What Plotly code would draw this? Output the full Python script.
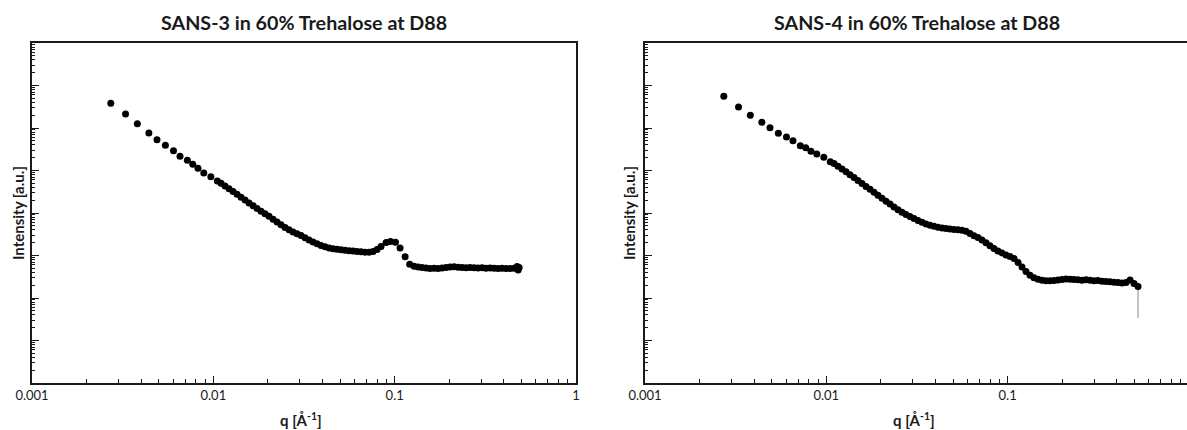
import plotly.graph_objects as go

# ---------------- data ----------------
q_left = [0.00272, 0.00328, 0.00381, 0.00441, 0.00489, 0.00544, 0.00603, 0.00655, 0.00719, 0.00770,
          0.00823, 0.00886, 0.00969, 0.01052,
          0.01103, 0.01160, 0.01221, 0.01285, 0.01351, 0.01422, 0.01496, 0.01574, 0.01656, 0.01742,
          0.01833, 0.01928, 0.02029, 0.02135, 0.02246, 0.02363, 0.02486, 0.02616, 0.02752, 0.02895,
          0.03046, 0.03205, 0.03372, 0.03548, 0.03733, 0.03927, 0.04131, 0.04347, 0.04573, 0.04811,
          0.05062, 0.05326, 0.05603, 0.05895, 0.06202, 0.06525, 0.06865, 0.07222, 0.07599, 0.07994,
          0.08411, 0.0897, 0.0948, 0.1010, 0.1071, 0.1142, 0.1210, 0.1280, 0.1346, 0.1416, 0.1491,
          0.1568, 0.1650, 0.1736, 0.1826, 0.1921, 0.2021, 0.2127, 0.2238, 0.2354, 0.2477, 0.2606,
          0.2742, 0.2885, 0.3035, 0.3193, 0.3359, 0.3535, 0.3719, 0.3913, 0.4117, 0.4331, 0.4557,
          0.4734, 0.4795, 0.4856]
i_left = [3813, 2135, 1262, 763, 530, 392, 292, 216, 174, 140,
          113, 87.4, 71.5, 56.6,
          50.0, 43.2, 37.1, 32.1, 27.5, 23.4, 20.2, 17.2, 14.8, 12.8,
          11.0, 9.58, 8.36, 7.15, 6.14, 5.28, 4.56, 4.02, 3.57, 3.24,
          2.95, 2.61, 2.32, 2.08, 1.88, 1.72, 1.60, 1.50, 1.44, 1.40,
          1.36, 1.33, 1.30, 1.28, 1.25, 1.22, 1.20, 1.19, 1.24, 1.38,
          1.63, 2.02, 2.14, 2.05, 1.50, 0.937, 0.621, 0.557, 0.536, 0.522, 0.508,
          0.495, 0.500, 0.492, 0.508, 0.522, 0.536, 0.542, 0.528, 0.519, 0.514, 0.522,
          0.514, 0.508, 0.516, 0.503, 0.508, 0.500, 0.495, 0.503, 0.495, 0.492, 0.500,
          0.551, 0.456, 0.522]

q_right = [0.00272, 0.00328, 0.00381, 0.00441, 0.00489, 0.00544, 0.00603, 0.00655, 0.00719, 0.00770,
           0.00823, 0.00886, 0.00969, 0.01052,
           0.01103, 0.01160, 0.01221, 0.01285, 0.01351, 0.01422, 0.01496, 0.01574, 0.01656, 0.01742,
           0.01833, 0.01928, 0.02029, 0.02135, 0.02246, 0.02363, 0.02486, 0.02616, 0.02752, 0.02895,
           0.03046, 0.03205, 0.03372, 0.03548, 0.03733, 0.03927, 0.04131, 0.04347, 0.04573, 0.04811,
           0.05062, 0.05326, 0.05603, 0.05895, 0.06202, 0.06525, 0.06865, 0.07222, 0.07599, 0.07994,
           0.08411, 0.08849, 0.0931, 0.0980, 0.1031, 0.1085, 0.1142, 0.1201, 0.1263, 0.1329, 0.1398,
           0.1472, 0.1548, 0.1629, 0.1714, 0.1803, 0.1897, 0.1996, 0.2100, 0.2209, 0.2324, 0.2445,
           0.2573, 0.2707, 0.2848, 0.2996, 0.3152, 0.3317, 0.3490, 0.3672, 0.3864, 0.4064, 0.4276,
           0.4499, 0.4734, 0.498, 0.524]
i_right = [5570, 3121, 1990, 1362, 1016, 750, 614, 502, 383, 344,
           283, 244, 204, 161,
           146, 126, 108, 93.2, 79.2, 68.4, 58.2, 49.4, 42.0, 36.1,
           30.7, 26.1, 22.3, 19.0, 16.3, 13.8, 11.9, 10.4, 9.22, 8.27,
           7.42, 6.66, 6.04, 5.51, 5.14, 4.87, 4.63, 4.46, 4.32, 4.20,
           4.11, 4.03, 3.92, 3.71, 3.29, 2.91, 2.65, 2.32, 1.99, 1.69,
           1.46, 1.28, 1.15, 1.03, 0.947, 0.850, 0.684, 0.536, 0.420, 0.342, 0.299,
           0.275, 0.261, 0.255, 0.254, 0.258, 0.265, 0.272, 0.280, 0.275, 0.271, 0.268,
           0.262, 0.268, 0.261, 0.254, 0.258, 0.248, 0.244, 0.241, 0.234, 0.232, 0.225,
           0.232, 0.265, 0.219, 0.186]
# only the last right-hand point shows a (downward) error bar
err_right_minus = [0] * (len(i_right) - 1) + [0.152]

titles = ["SANS-3 in 60% Trehalose at D88", "SANS-4 in 60% Trehalose at D88"]
x_title = "q [Å<sup>-1</sup>]"
y_title = "Intensity [a.u.]"
x_tickvals_left = [0.001, 0.01, 0.1, 1]
x_ticktext_left = ["0.001", "0.01", "0.1", "1"]
x_tickvals_right = [0.001, 0.01, 0.1]
x_ticktext_right = ["0.001", "0.01", "0.1"]

# ---------------- figure ----------------
W, H = 1187, 430
TOP, BOT = 43, 383          # plot area in pixels
PH = BOT - TOP
FONT = "Lato, 'Open Sans', sans-serif"
INK = "#1a1a1a"
fig = go.Figure()

fig.add_trace(go.Scatter(x=q_left, y=i_left, mode="markers",
                         marker=dict(color="black", size=7),
                         xaxis="x", yaxis="y", showlegend=False))
fig.add_trace(go.Scatter(x=q_right, y=i_right, mode="markers",
                         marker=dict(color="black", size=7),
                         error_y=dict(type="data", symmetric=False, array=[0] * len(i_right),
                                      arrayminus=err_right_minus, color="#888888",
                                      thickness=1, width=0),
                         xaxis="x2", yaxis="y2", showlegend=False))

def xax(domain, rng, tv, tt, anchor):
    return dict(type="log", domain=domain, range=rng, anchor=anchor, automargin=False,
                tickvals=tv, ticktext=tt, ticks="inside", ticklen=7, tickwidth=1,
                tickcolor=INK, showline=True, linecolor=INK, linewidth=1.5,
                mirror=True, showgrid=False, zeroline=False,
                tickfont=dict(family=FONT, size=13, color=INK),
                minor=dict(ticks="inside", ticklen=4, tickcolor=INK, dtick="D1", showgrid=False))

def yax(anchor, mirror):
    return dict(type="log", range=[-3, 5], anchor=anchor, dtick=1, automargin=False,
                ticks="inside", ticklen=7, tickwidth=1, tickcolor=INK,
                showticklabels=False, showline=True, linecolor=INK, linewidth=1.5,
                mirror=mirror, showgrid=False, zeroline=False,
                minor=dict(ticks="inside", ticklen=3, tickcolor=INK, dtick="D1", showgrid=False))

L0, L1, R0 = 32, 576, 645
fig.update_layout(
    width=W, height=H,
    margin=dict(l=0, r=0, t=TOP, b=H - BOT, autoexpand=False),
    paper_bgcolor="white", plot_bgcolor="white",
    xaxis=xax([L0 / W, L1 / W], [-3, 0], x_tickvals_left, x_ticktext_left, "y"),
    yaxis=yax("x", True),
    xaxis2=xax([R0 / W, 1.0], [-3, -3 + (W - R0) / 181.3], x_tickvals_right, x_ticktext_right, "y2"),
    yaxis2=yax("x2", False),
)

def py(pix):  # pixel row -> paper y
    return (BOT - pix) / PH

# subplot titles, axis titles
for cx, t in [((L0 + L1) / 2, titles[0]), ((R0 + 1189) / 2, titles[1])]:
    fig.add_annotation(x=cx / W, y=py(22), xref="paper", yref="paper", text="<b>" + t + "</b>",
                       showarrow=False, xanchor="center", yanchor="middle",
                       font=dict(family=FONT, size=19.7, color=INK))
for cx in [18, 629]:
    fig.add_annotation(x=cx / W, y=py(213), xref="paper", yref="paper", text="<b>" + y_title + "</b>",
                       showarrow=False, textangle=-90, xanchor="center", yanchor="middle",
                       font=dict(family=FONT, size=15, color=INK))
for cx in [(L0 + L1) / 2 - 3, (R0 + 1189) / 2 - 3]:
    fig.add_annotation(x=cx / W, y=py(419), xref="paper", yref="paper", text="<b>" + x_title + "</b>",
                       showarrow=False, xanchor="center", yanchor="middle",
                       font=dict(family=FONT, size=15, color=INK))

fig.write_html("out.html", config=dict(displayModeBar=False),
               post_script="document.body.style.margin='0';document.body.style.overflow='hidden';")
